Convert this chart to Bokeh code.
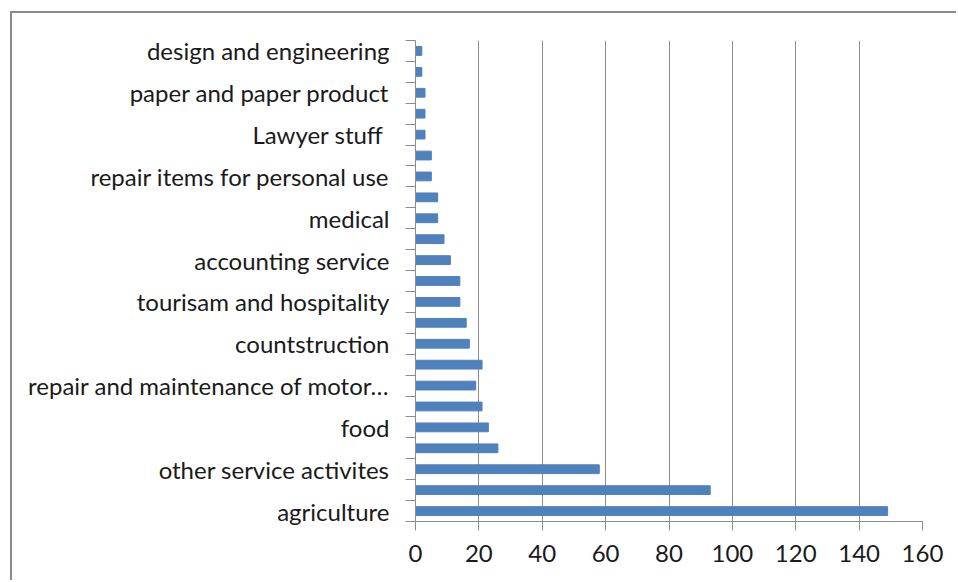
from bokeh.plotting import figure
from bokeh.models import FixedTicker, ColumnDataSource
from bokeh.embed import file_html
from bokeh.resources import INLINE

# bottom to top
categories = ["agriculture", "", "other service activites", "", "food", "",
              "repair and maintenance of motor\u2026", "", "countstruction", "",
              "tourisam and hospitality", "", "accounting service", "", "medical", "",
              "repair items for personal use", "", "Lawyer stuff ", "",
              "paper and paper product", "", "design and engineering"]
values = [149, 93, 58, 26, 23, 21, 19, 21, 17, 16, 14, 14, 11, 9, 7, 7, 5, 5, 3, 3, 3, 2, 2]
x_ticks = [0, 20, 40, 60, 80, 100, 120, 140, 160]

n = len(categories)
pos = list(range(1, n + 1))
src = ColumnDataSource(dict(y=pos, v=values))

FONT = "Lato"
GRID = "#8c8c8c"
TXT = "#1a1a1a"

OFF_X, OFF_Y = 12, 13  # outer chart border (left/top) offset
W, H = 958 - OFF_X, 582 - OFF_Y

p = figure(width=W, height=H, output_backend="svg", toolbar_location=None,
           x_range=(0, 160), y_range=(0.5, n + 0.5))
p.margin = (11, 0, 0, 10)
p.styles = {"border-left": "2px solid #8a8a8a", "border-top": "2px solid #8a8a8a"}
p.min_border_left = 415 - OFF_X
p.min_border_right = 36
p.min_border_top = 40 - OFF_Y
p.min_border_bottom = 61
p.outline_line_color = None
p.background_fill_color = "white"
p.border_fill_color = "white"

p.hbar(y="y", right="v", left=0, height=0.42, source=src,
       fill_color="#4F81BD", line_color="#4F81BD")

# x axis
p.xaxis.ticker = FixedTicker(ticks=x_ticks, minor_ticks=[])
p.xaxis.axis_line_color = GRID
p.xaxis.major_tick_line_color = GRID
p.xaxis.major_tick_out = 9
p.xaxis.major_tick_in = 0
p.xaxis.minor_tick_line_color = None
p.xaxis.major_label_text_font = FONT
p.xaxis.major_label_text_font_size = "24px"
p.xaxis.major_label_text_color = TXT
p.xaxis.major_label_standoff = 14

# y axis: labels at odd positions, tick marks between categories
label_pos = [i + 1 for i, c in enumerate(categories) if c != ""]
overrides = {i + 1: c for i, c in enumerate(categories) if c != ""}
p.yaxis.ticker = FixedTicker(ticks=label_pos, minor_ticks=[k + 0.5 for k in range(0, n + 1)])
p.yaxis.major_label_overrides = overrides
p.yaxis.major_tick_line_color = None
p.yaxis.major_tick_out = 0
p.yaxis.major_tick_in = 0
p.yaxis.minor_tick_line_color = GRID
p.yaxis.minor_tick_out = 10
p.yaxis.minor_tick_in = 0
p.yaxis.axis_line_color = GRID
p.yaxis.major_label_text_font = FONT
p.yaxis.major_label_text_font_size = "24px"
p.yaxis.major_label_text_color = TXT
p.yaxis.major_label_standoff = 16

p.xgrid.grid_line_color = GRID
p.xgrid.ticker = FixedTicker(ticks=x_ticks[1:])
p.ygrid.grid_line_color = None

open("out.html", "w").write(file_html(p, INLINE))
